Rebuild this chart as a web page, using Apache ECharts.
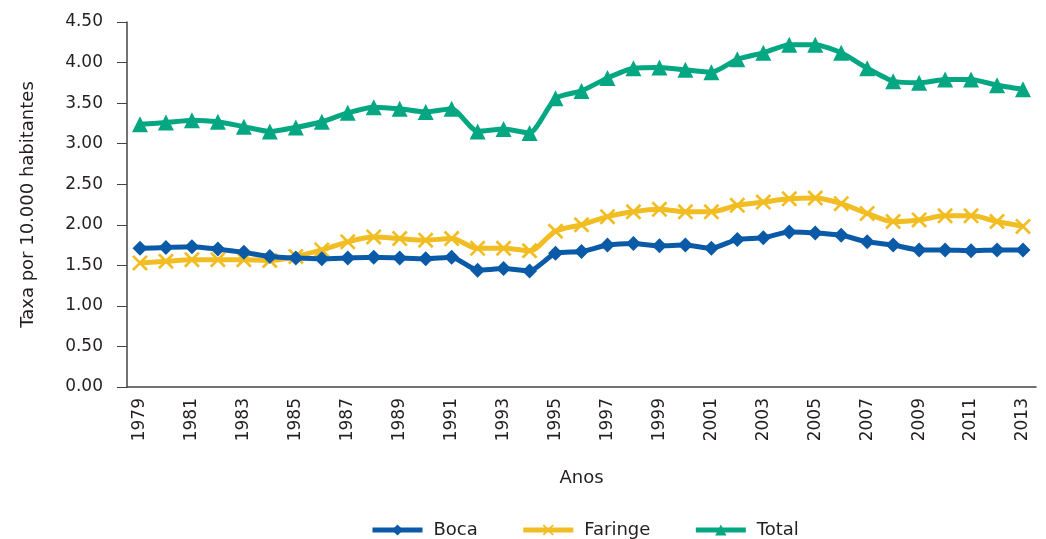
<!DOCTYPE html>
<html><head><meta charset="utf-8">
<script src="https://cdn.jsdelivr.net/npm/echarts@6/dist/echarts.min.js"></script>
<style>html,body{margin:0;padding:0;background:#fff}#c{width:1046px;height:539px}</style>
</head><body><div id="c"></div>
<script>
const years = ['1979','1980','1981','1982','1983','1984','1985','1986','1987','1988','1989','1990','1991','1992','1993','1994','1995','1996','1997','1998','1999','2000','2001','2002','2003','2004','2005','2006','2007','2008','2009','2010','2011','2012','2013'];
const boca = [1.71,1.72,1.73,1.70,1.66,1.61,1.59,1.58,1.59,1.60,1.59,1.58,1.60,1.44,1.46,1.43,1.65,1.67,1.75,1.77,1.74,1.75,1.71,1.82,1.84,1.91,1.90,1.87,1.79,1.75,1.69,1.69,1.68,1.69,1.69];
const faringe = [1.53,1.55,1.57,1.57,1.57,1.56,1.61,1.69,1.79,1.85,1.83,1.81,1.83,1.71,1.71,1.68,1.92,2.00,2.10,2.16,2.19,2.16,2.16,2.24,2.28,2.32,2.33,2.26,2.14,2.04,2.06,2.11,2.11,2.04,1.98];
const total = [3.24,3.26,3.29,3.27,3.21,3.15,3.20,3.27,3.38,3.45,3.43,3.39,3.43,3.15,3.18,3.13,3.56,3.65,3.81,3.93,3.94,3.91,3.88,4.04,4.12,4.22,4.22,4.12,3.93,3.77,3.75,3.79,3.79,3.72,3.67];

const FONT = 'DejaVu Sans';
const TXT = '#231f20';
const crossPath = 'path://M0,1.2 L1.2,0 L10,8.8 L8.8,10 Z M8.8,0 L10,1.2 L1.2,10 L0,8.8 Z';

const chart = echarts.init(document.getElementById('c'), null, {renderer:'canvas'});
chart.setOption({
  animation:false,
  textStyle:{fontFamily:FONT,color:TXT},
  grid:{left:127,right:10,top:22,bottom:152,containLabel:false},
  legend:{
    top:521,left:370,padding:0,itemWidth:50,itemHeight:14,itemGap:43,
    lineStyle:{width:5},
    textStyle:{fontFamily:FONT,fontSize:18,color:TXT,padding:[0,0,0,6]},
    data:['Boca','Faringe','Total']
  },
  xAxis:{
    type:'category',data:years,boundaryGap:true,
    name:'Anos',nameLocation:'middle',nameGap:82,
    nameTextStyle:{fontFamily:FONT,fontSize:18,color:TXT},
    axisLine:{lineStyle:{color:'#444',width:1.5}},
    axisTick:{show:false},
    axisLabel:{rotate:90,interval:1,fontSize:17,color:TXT,fontFamily:FONT,margin:11}
  },
  yAxis:{
    type:'value',min:0,max:4.5,interval:0.5,
    name:'Taxa por 10.000 habitantes',nameLocation:'middle',nameGap:90,
    nameTextStyle:{fontFamily:FONT,fontSize:18,color:TXT},
    axisLine:{show:true,lineStyle:{color:'#444',width:1.5}},
    axisTick:{show:true,inside:false,length:10,lineStyle:{color:'#444'}},
    splitLine:{show:false},
    axisLabel:{fontSize:17,color:TXT,fontFamily:FONT,margin:24,formatter:v=>v.toFixed(2)}
  },
  series:[
    {name:'Boca',type:'line',data:boca,smooth:0.2,symbol:'diamond',symbolSize:15,
     lineStyle:{width:5,color:'#0a5aa8'},itemStyle:{color:'#0a5aa8'},z:3},
    {name:'Faringe',type:'line',data:faringe,smooth:0.3,symbol:crossPath,symbolSize:16,
     lineStyle:{width:5,color:'#f1bd22'},itemStyle:{color:'#f1bd22'},z:2},
    {name:'Total',type:'line',data:total,smooth:0.2,symbol:'triangle',symbolSize:16,
     lineStyle:{width:5,color:'#04a782'},itemStyle:{color:'#04a782'},z:4}
  ]
});
</script></body></html>
